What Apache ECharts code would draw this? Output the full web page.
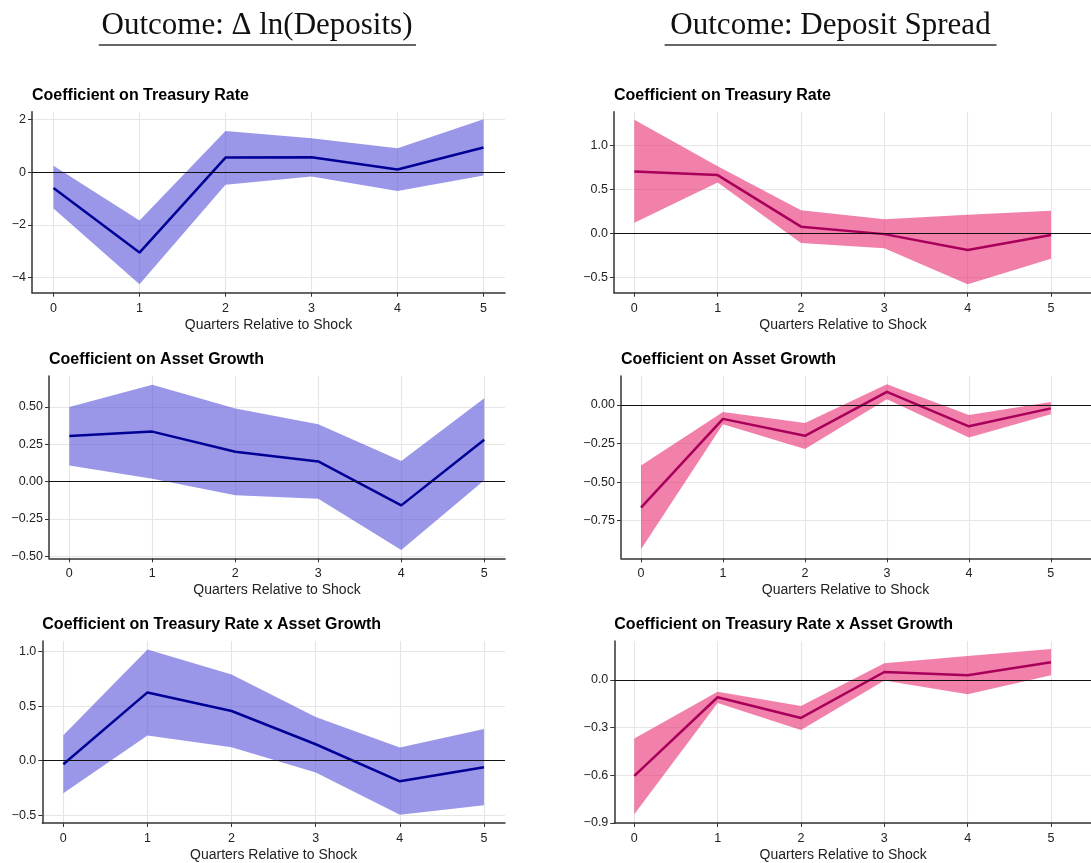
<!DOCTYPE html>
<html>
<head>
<meta charset="utf-8">
<script src="https://cdn.jsdelivr.net/npm/echarts@6/dist/echarts.min.js"></script>
<style>
  html, body { margin: 0; padding: 0; background: #fff; }
  #chart { width: 1091px; height: 863px; }
</style>
</head>
<body>
<div id="chart"></div>
<script>
(function() {
  const chart = echarts.init(document.getElementById('chart'));

  const quarters = [0, 1, 2, 3, 4, 5];
  const quarterTicks = [0, 1, 2, 3, 4, 5];

  // Outcome: deposits growth (left column)
  const depTreasCoef = [-0.6, -3.05, 0.55, 0.56, 0.1, 0.93];
  const depTreasUpper = [0.24, -1.83, 1.56, 1.28, 0.9, 2.0];
  const depTreasLower = [-1.38, -4.25, -0.48, -0.17, -0.72, -0.13];

  const depAssetCoef = [0.305, 0.335, 0.2, 0.135, -0.16, 0.28];
  const depAssetUpper = [0.5, 0.65, 0.49, 0.385, 0.137, 0.558];
  const depAssetLower = [0.108, 0.018, -0.092, -0.116, -0.46, 0.008];

  const depInterCoef = [-0.034, 0.626, 0.455, 0.15, -0.19, -0.061];
  const depInterUpper = [0.232, 1.02, 0.79, 0.4, 0.12, 0.29];
  const depInterLower = [-0.3, 0.23, 0.122, -0.11, -0.498, -0.41];

  // Outcome: deposit spread (right column)
  const sprTreasCoef = [0.7, 0.66, 0.075, -0.01, -0.19, -0.02];
  const sprTreasUpper = [1.29, 0.76, 0.26, 0.16, 0.21, 0.255];
  const sprTreasLower = [0.12, 0.575, -0.11, -0.17, -0.58, -0.29];

  const sprAssetCoef = [-0.665, -0.09, -0.2, 0.085, -0.138, -0.022];
  const sprAssetUpper = [-0.393, -0.045, -0.117, 0.134, -0.065, 0.019];
  const sprAssetLower = [-0.936, -0.125, -0.285, 0.037, -0.21, -0.06];

  const sprInterCoef = [-0.604, -0.109, -0.239, 0.05, 0.029, 0.111];
  const sprInterUpper = [-0.369, -0.075, -0.164, 0.105, 0.151, 0.195];
  const sprInterLower = [-0.845, -0.145, -0.315, -0.004, -0.09, 0.029];

  // y tick labels
  const ticksDepTreas = [-4, -2, 0, 2];
  const ticksDepAsset = [-0.5, -0.25, 0, 0.25, 0.5];
  const ticksDepInter = [-0.5, 0, 0.5, 1.0];
  const ticksSprTreas = [-0.5, 0, 0.5, 1.0];
  const ticksSprAsset = [-0.75, -0.5, -0.25, 0];
  const ticksSprInter = [-0.9, -0.6, -0.3, 0];

  const blue = { band: 'rgba(87, 81, 216, 0.6)', line: '#000096' };
  const pink = { band: 'rgba(232, 43, 113, 0.6)', line: '#a8005a' };

  const panels = [
    { title: 'Coefficient on Treasury Rate', coef: depTreasCoef, up: depTreasUpper, lo: depTreasLower,
      ticks: ticksDepTreas, dec: 0, ymin: -4.57, ymax: 2.29, xmin: -0.25, xmax: 5.25,
      grid: { left: 32, right: 586, top: 111.7, bottom: 570.3 }, col: blue, shift: 0 },
    { title: 'Coefficient on Treasury Rate', coef: sprTreasCoef, up: sprTreasUpper, lo: sprTreasLower,
      ticks: ticksSprTreas, dec: 1, ymin: -0.675, ymax: 1.38, xmin: -0.244, xmax: 5.48,
      grid: { left: 614, right: 0, top: 111.7, bottom: 570.3 }, col: pink, shift: 19 },
    { title: 'Coefficient on Asset Growth', coef: depAssetCoef, up: depAssetUpper, lo: depAssetLower,
      ticks: ticksDepAsset, dec: 2, ymin: -0.515, ymax: 0.708, xmin: -0.245, xmax: 5.25,
      grid: { left: 49, right: 586, top: 376, bottom: 304.7 }, col: blue, shift: 0 },
    { title: 'Coefficient on Asset Growth', coef: sprAssetCoef, up: sprAssetUpper, lo: sprAssetLower,
      ticks: ticksSprAsset, dec: 2, ymin: -0.994, ymax: 0.188, xmin: -0.244, xmax: 5.49,
      grid: { left: 621, right: 0, top: 376, bottom: 304.7 }, col: pink, shift: 21 },
    { title: 'Coefficient on Treasury Rate x Asset Growth', coef: depInterCoef, up: depInterUpper, lo: depInterLower,
      ticks: ticksDepInter, dec: 1, ymin: -0.573, ymax: 1.098, xmin: -0.25, xmax: 5.25,
      grid: { left: 42.3, right: 586, top: 641, bottom: 39.7 }, col: blue, shift: 0 },
    { title: 'Coefficient on Treasury Rate x Asset Growth', coef: sprInterCoef, up: sprInterUpper, lo: sprInterLower,
      ticks: ticksSprInter, dec: 1, ymin: -0.9, ymax: 0.245, xmin: -0.24, xmax: 5.48,
      grid: { left: 614.3, right: 0, top: 641, bottom: 39.7 }, col: pink, shift: 19 }
  ];

  function fmt(dec) {
    return function(v) {
      return Number(v).toFixed(dec).replace('-', '\u2212');
    };
  }

  function bandRender(p) {
    return function(params, api) {
      if (params.dataIndex !== 0) return null;
      const pts = [];
      for (let i = 0; i < quarters.length; i++) pts.push(api.coord([quarters[i], p.up[i]]));
      for (let i = quarters.length - 1; i >= 0; i--) pts.push(api.coord([quarters[i], p.lo[i]]));
      return {
        type: 'polygon',
        shape: { points: pts },
        style: { fill: p.col.band, stroke: null }
      };
    };
  }

  const grid = [], xAxis = [], yAxis = [], series = [], title = [];
  panels.forEach(function(p, k) {
    grid.push(p.grid);
    title.push({
      text: p.title,
      left: p.grid.left,
      top: p.grid.top - 24,
      padding: 0,
      textStyle: { fontFamily: 'Liberation Sans', fontWeight: 'bold', fontSize: 16, color: '#000' }
    });
    xAxis.push({
      type: 'value',
      gridIndex: k,
      min: p.xmin,
      max: p.xmax,
      name: 'Quarters Relative to Shock',
      nameLocation: 'middle',
      nameGap: 25,
      nameTextStyle: { fontFamily: 'Liberation Sans', fontSize: 14, color: '#222', padding: [0, p.shift, 0, 0] },
      axisLine: { onZero: false, lineStyle: { color: '#333', width: 1.5 } },
      axisTick: { customValues: quarterTicks, length: 4, lineStyle: { color: '#333' } },
      axisLabel: { customValues: quarterTicks, fontFamily: 'Liberation Sans', fontSize: 12.5, color: '#222', margin: 9 },
      splitLine: { show: true, lineStyle: { color: '#e6e6e6', width: 1.2 } }
    });
    yAxis.push({
      type: 'value',
      gridIndex: k,
      min: p.ymin,
      max: p.ymax,
      axisLine: { show: true, onZero: false, lineStyle: { color: '#333', width: 1.5 } },
      axisTick: { show: true, customValues: p.ticks, length: 4, lineStyle: { color: '#333' } },
      axisLabel: { customValues: p.ticks, fontFamily: 'Liberation Sans', fontSize: 12.5, color: '#222', margin: 6, formatter: fmt(p.dec) },
      splitLine: { show: true, lineStyle: { color: '#e6e6e6', width: 1.2 } }
    });
    series.push({
      type: 'custom',
      xAxisIndex: k,
      yAxisIndex: k,
      silent: true,
      z: 1,
      renderItem: bandRender(p),
      encode: { x: 0, y: [1, 2] },
      data: quarters.map(function(q, i) { return [q, p.lo[i], p.up[i]]; })
    });
    series.push({
      type: 'line',
      xAxisIndex: k,
      yAxisIndex: k,
      z: 3,
      symbol: 'none',
      lineStyle: { color: p.col.line, width: 2.5 },
      data: quarters.map(function(q, i) { return [q, p.coef[i]]; }),
      markLine: {
        silent: true,
        symbol: 'none',
        label: { show: false },
        lineStyle: { color: '#111', width: 1.2, type: 'solid' },
        data: [{ yAxis: 0 }]
      }
    });
  });

  const headerFont = '31px "Liberation Serif", serif';
  const option = {
    animation: false,
    backgroundColor: '#fff',
    title: title,
    grid: grid,
    xAxis: xAxis,
    yAxis: yAxis,
    series: series,
    graphic: [
      { type: 'text', x: 257, y: 26, style: { text: 'Outcome: \u0394 ln(Deposits)', font: headerFont, fill: '#111', textAlign: 'center', textVerticalAlign: 'middle' } },
      { type: 'line', shape: { x1: 98.8, y1: 45, x2: 416, y2: 45 }, style: { stroke: '#333', lineWidth: 1.5 } },
      { type: 'text', x: 830.5, y: 26, style: { text: 'Outcome: Deposit Spread', font: headerFont, fill: '#111', textAlign: 'center', textVerticalAlign: 'middle' } },
      { type: 'line', shape: { x1: 664.6, y1: 45, x2: 996.5, y2: 45 }, style: { stroke: '#333', lineWidth: 1.5 } }
    ]
  };
  chart.setOption(option);
}());
</script>
</body>
</html>
